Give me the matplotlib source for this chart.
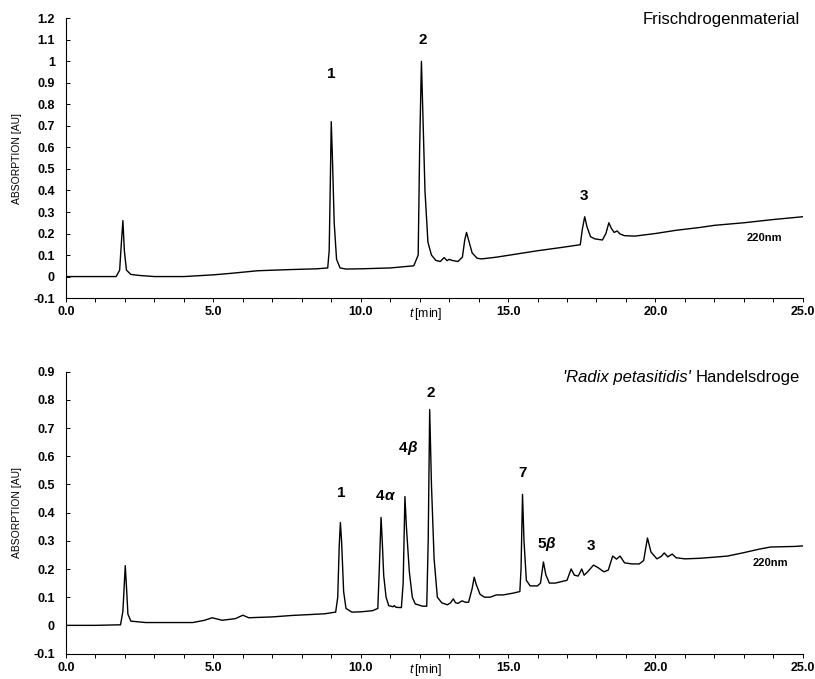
import numpy as np
import matplotlib
matplotlib.use("Agg")
import matplotlib.pyplot as plt
from matplotlib.ticker import MultipleLocator, FormatStrFormatter, FuncFormatter

plt.rcParams['font.family'] = ['Liberation Sans', 'DejaVu Sans']
plt.rcParams['mathtext.fontset'] = 'custom'
plt.rcParams['mathtext.rm'] = 'Liberation Sans'
plt.rcParams['mathtext.it'] = 'Liberation Sans:italic'
plt.rcParams['mathtext.bf'] = 'Liberation Sans:bold'

# --- Frischdrogenmaterial (top trace), time [min] / absorption [AU]
top_t = [0.0, 1.0, 1.7, 1.82, 1.88, 1.93, 1.98, 2.05, 2.2, 2.5, 3.0, 4.0, 5.0, 5.6,
         6.5, 7.5, 8.5, 8.88, 8.93, 8.97, 9.0, 9.04, 9.1, 9.18, 9.3, 9.5, 10.0, 11.0,
         11.8, 11.95, 12.0, 12.06, 12.1, 12.18, 12.28, 12.4, 12.55, 12.7, 12.83, 12.93,
         13.0, 13.1, 13.3, 13.45, 13.53, 13.59, 13.66, 13.78, 13.95, 14.1, 14.6, 15.3,
         16.0, 16.8, 17.45, 17.52, 17.6, 17.68, 17.8, 17.95, 18.2, 18.32, 18.42, 18.5,
         18.6, 18.7, 18.8, 18.95, 19.3, 20.0, 20.7, 21.5, 22.0, 23.0, 24.0, 25.0]
top_au = [0.0, 0.0, 0.0, 0.03, 0.16, 0.26, 0.12, 0.03, 0.01, 0.005, 0.0, 0.0, 0.008, 0.015,
          0.027, 0.032, 0.036, 0.04, 0.12, 0.45, 0.72, 0.55, 0.25, 0.08, 0.04, 0.035, 0.036, 0.04,
          0.05, 0.1, 0.6, 1.0, 0.8, 0.4, 0.16, 0.1, 0.075, 0.07, 0.088, 0.074,
          0.08, 0.075, 0.07, 0.09, 0.17, 0.205, 0.17, 0.11, 0.085, 0.082, 0.09, 0.105,
          0.12, 0.135, 0.148, 0.22, 0.278, 0.23, 0.185, 0.175, 0.17, 0.2, 0.25, 0.225,
          0.205, 0.212, 0.198, 0.19, 0.188, 0.2, 0.215, 0.228, 0.238, 0.25, 0.265, 0.278]

# --- 'Radix petasitidis' Handelsdroge (bottom trace)
bot_t = [0.0, 1.0, 1.85, 1.93, 1.98, 2.01, 2.05, 2.1, 2.2, 2.7, 4.3, 4.7, 4.96, 5.3, 5.75,
         6.0, 6.2, 7.0, 7.65, 8.77, 9.15, 9.22, 9.27, 9.31, 9.35, 9.42, 9.5, 9.7, 10.0,
         10.4, 10.58, 10.63, 10.69, 10.73, 10.78, 10.86, 10.95, 11.1, 11.14, 11.2, 11.38,
         11.44, 11.5, 11.55, 11.65, 11.75, 11.85, 12.1, 12.24, 12.29, 12.34, 12.4, 12.49,
         12.6, 12.75, 12.94, 13.05, 13.14, 13.22, 13.3, 13.44, 13.55, 13.66, 13.78, 13.85,
         13.92, 14.05, 14.2, 14.4, 14.6, 14.84, 15.2, 15.4, 15.44, 15.49, 15.54, 15.62,
         15.75, 16.0, 16.1, 16.2, 16.28, 16.4, 16.6, 16.8, 17.0, 17.14, 17.25, 17.38, 17.5,
         17.58, 17.7, 17.9, 18.05, 18.25, 18.4, 18.55, 18.68, 18.8, 18.95, 19.2, 19.45,
         19.6, 19.73, 19.85, 20.05, 20.2, 20.3, 20.42, 20.57, 20.7, 21.0, 21.5, 22.0,
         22.45, 23.0, 23.5, 23.9, 24.7, 25.0]
bot_au = [0.0, 0.0, 0.002, 0.05, 0.15, 0.212, 0.14, 0.04, 0.015, 0.01, 0.01, 0.018, 0.027, 0.018, 0.024,
          0.036, 0.027, 0.03, 0.035, 0.041, 0.047, 0.1, 0.28, 0.365, 0.3, 0.12, 0.06, 0.047, 0.048,
          0.052, 0.06, 0.2, 0.383, 0.3, 0.177, 0.1, 0.07, 0.066, 0.07, 0.064, 0.063,
          0.15, 0.457, 0.35, 0.19, 0.1, 0.076, 0.068, 0.068, 0.3, 0.766, 0.5, 0.236,
          0.1, 0.08, 0.073, 0.08, 0.094, 0.08, 0.078, 0.087, 0.082, 0.082, 0.13, 0.171,
          0.145, 0.11, 0.1, 0.1, 0.108, 0.108, 0.115, 0.12, 0.2, 0.465, 0.3, 0.16,
          0.14, 0.14, 0.15, 0.225, 0.18, 0.15, 0.15, 0.155, 0.16, 0.2, 0.178, 0.175, 0.2,
          0.178, 0.19, 0.214, 0.205, 0.19, 0.196, 0.246, 0.235, 0.246, 0.222, 0.218, 0.218,
          0.23, 0.31, 0.26, 0.236, 0.245, 0.257, 0.243, 0.253, 0.24, 0.236, 0.238, 0.242,
          0.246, 0.258, 0.27, 0.278, 0.28, 0.282]

# peak labels: (time, AU, number, greek suffix)
top_labels = [(9.0, 0.94, '1', ''), (12.1, 1.10, '2', ''), (17.59, 0.375, '3', '')]
bot_labels = [(9.33, 0.47, '1', ''), (10.8, 0.46, '4', 'α'), (11.59, 0.63, '4', 'β'),
              (12.37, 0.826, '2', ''), (15.5, 0.54, '7', ''), (16.27, 0.29, '5', 'β'),
              (17.82, 0.28, '3', '')]


def style_axis(ax, ymin, ymax):
    ax.set_xlim(0, 25)
    ax.set_ylim(ymin, ymax)
    ax.spines['top'].set_visible(False)
    ax.spines['right'].set_visible(False)
    ax.spines['left'].set_linewidth(0.8)
    ax.spines['bottom'].set_linewidth(0.8)
    ax.xaxis.set_major_locator(MultipleLocator(5))
    ax.xaxis.set_minor_locator(MultipleLocator(1))
    ax.xaxis.set_major_formatter(FormatStrFormatter('%.1f'))
    ax.yaxis.set_major_locator(MultipleLocator(0.1))
    ax.yaxis.set_major_formatter(FuncFormatter(lambda v, p: '%g' % round(v, 2)))
    ax.tick_params(axis='x', which='both', direction='out', length=3, width=0.7,
                   labelsize=9, pad=3)
    ax.tick_params(axis='y', direction='in', length=3, width=0.7, labelsize=9, pad=8)
    for lab in ax.get_xticklabels() + ax.get_yticklabels():
        lab.set_fontweight('bold')
    ax.set_ylabel('ABSORPTION [AU]', fontsize=7.5, labelpad=8)
    ax.annotate(r'$t\,$[min]', xy=(12.2, 0), xycoords=('data', 'axes fraction'),
                xytext=(0, -6), textcoords='offset points', ha='center', va='top',
                fontsize=9)


def peak_label(ax, x, y, num, greek):
    if greek:
        t = ax.text(x, y, num, ha='right', va='center', fontsize=11, fontweight='bold')
        ax.annotate(greek, xy=(1, 0), xycoords=t, ha='left', va='bottom',
                    fontsize=11, fontweight='bold', fontstyle='italic')
    else:
        ax.text(x, y, num, ha='center', va='center', fontsize=11, fontweight='bold')


fig = plt.figure(figsize=(8.15, 6.79), dpi=100)
ax1 = fig.add_axes([0.081, 0.561, 0.904, 0.412])
ax2 = fig.add_axes([0.081, 0.0375, 0.904, 0.415])

ax1.plot(top_t, top_au, color='black', lw=1.0)
style_axis(ax1, -0.1, 1.2)
for x, y, n, g in top_labels:
    peak_label(ax1, x, y, n, g)
ax1.text(23.7, 0.177, '220nm', ha='center', va='center', fontsize=8, fontweight='bold')
ax1.text(24.9, 1.195, 'Frischdrogenmaterial', ha='right', va='center', fontsize=12)

ax2.plot(bot_t, bot_au, color='black', lw=1.0)
style_axis(ax2, -0.1, 0.9)
for x, y, n, g in bot_labels:
    peak_label(ax2, x, y, n, g)
ax2.text(23.9, 0.22, '220nm', ha='center', va='center', fontsize=8, fontweight='bold')
title = ax2.text(24.9, 0.88, 'Handelsdroge', ha='right', va='center', fontsize=12)
ax2.annotate("'Radix petasitidis' ", xy=(0, 0), xycoords=title, ha='right', va='bottom',
             fontsize=12, fontstyle='italic')

fig.savefig('out.png', dpi=100)
